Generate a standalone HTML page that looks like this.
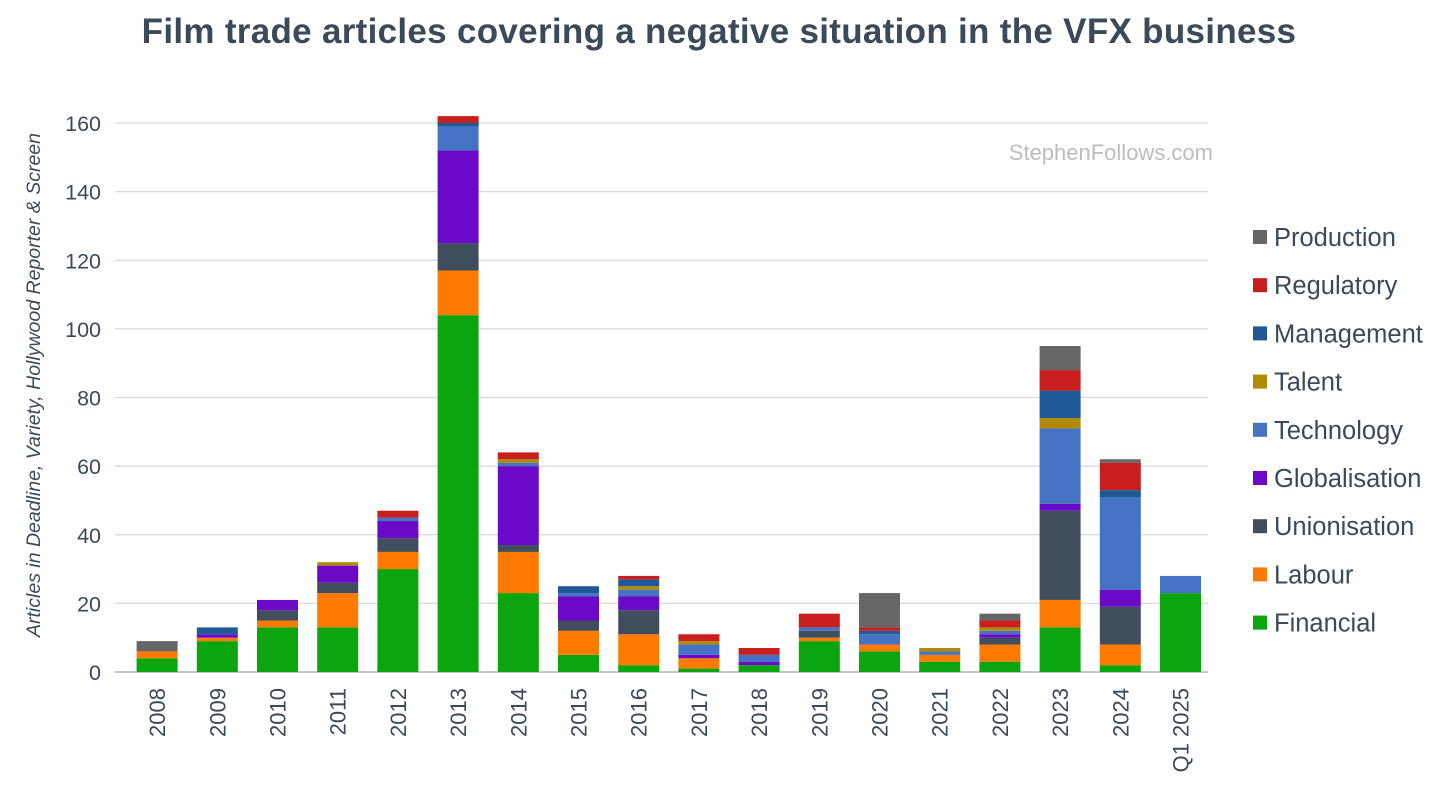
<!DOCTYPE html>
<html><head><meta charset="utf-8"><style>
body{margin:0;background:#fff;width:1456px;height:799px;overflow:hidden;font-family:"Liberation Sans",sans-serif}
</style></head><body>
<svg id="chart" width="1456" height="799" xmlns="http://www.w3.org/2000/svg">
<text x="719" y="43" text-anchor="middle" font-size="35" font-weight="bold" letter-spacing="0.3" fill="#3a4a5a">Film trade articles covering a negative situation in the VFX business</text>
<text x="1213" y="160" text-anchor="end" font-size="22" fill="#bdbdbd">StephenFollows.com</text>
<text transform="translate(40,385) rotate(-90)" text-anchor="middle" font-size="19.5" font-style="italic" fill="#3a4a5a">Articles in Deadline, Variety, Hollywood Reporter &amp; Screen</text>
<g id="grid"></g><g id="bars"></g><g id="xlabels"></g><g id="legend"></g>
</svg>
<script>
const categories=["2008","2009","2010","2011","2012","2013","2014","2015","2016","2017","2018","2019","2020","2021","2022","2023","2024","Q1 2025"];
const seriesNames=["Financial","Labour","Unionisation","Globalisation","Technology","Talent","Management","Regulatory","Production"];
const financial=[4,9,13,13,30,104,23,5,2,1,2,9,6,3,3,13,2,23];
const labour=[2,1,2,10,5,13,12,7,9,3,0,1,2,2,5,8,6,0];
const unionisation=[0,0,3,3,4,8,2,3,7,0,0,2,0,0,2,26,11,0];
const globalisation=[0,1,3,5,5,27,23,7,4,1,1,0,0,0,1,2,5,0];
const technology=[0,0,0,0,1,7,1,1,2,3,2,1,3,1,1,22,27,5];
const talent=[0,0,0,1,0,0,1,0,1,1,0,0,0,1,1,3,0,0];
const management=[0,2,0,0,0,1,0,2,2,0,0,0,1,0,0,8,2,0];
const regulatory=[0,0,0,0,2,2,2,0,1,2,2,4,1,0,2,6,8,0];
const production=[3,0,0,0,0,0,0,0,0,0,0,0,10,0,2,7,1,0];
const yTicks=[0,20,40,60,80,100,120,140,160];
const series=[financial,labour,unionisation,globalisation,technology,talent,management,regulatory,production];
const colors=["#0aa50f","#ff7a00","#3f4d5c","#6a0ac8","#4472c4","#b08a00","#1f5a96","#c81e1e","#666666"];
const NS="http://www.w3.org/2000/svg";
const y0=672,yTop=123,yMax=160;
const yScale=v=>y0-(v/yMax)*(y0-yTop);
const band=60.2,x0=127;
const xScale=i=>x0+band*(i+0.5);
const bw=41;
function mk(tag,attrs,parent){const e=document.createElementNS(NS,tag);for(const k in attrs)e.setAttribute(k,attrs[k]);parent.appendChild(e);return e;}
const grid=document.getElementById('grid');
yTicks.forEach(t=>{
 const l=mk('line',{x1:115,x2:1208,y1:yScale(t),y2:yScale(t),stroke:t===0?'#c8c8c8':'#d9d9d9','stroke-width':t===0?2:1.2},grid);
 
 
 const tx=mk('text',{x:101,y:yScale(t)+8,'text-anchor':'end','font-size':21.5,fill:'#3a4a5a'},grid);
 tx.textContent=t;
 
 
});
const bars=document.getElementById('bars');
categories.forEach((c,i)=>{
 let cum=0;
 series.forEach((s,k)=>{
  const v=s[i]; if(!v) return;
  const r=mk('rect',{x:xScale(i)-bw/2,y:yScale(cum+v),width:bw,height:yScale(cum)-yScale(cum+v),fill:colors[k]},bars);
  
  
  cum+=v;
 });
 const t=mk('text',{transform:`translate(${xScale(i)+8},688) rotate(-90)`,'text-anchor':'end','font-size':22,fill:'#3a4a5a'},document.getElementById('xlabels'));
 t.textContent=c;
 
 
});
const leg=document.getElementById('legend');
for(let k=seriesNames.length-1,row=0;k>=0;k--,row++){
 const y=237+row*48.2;
 const g=mk('g',{},leg);
 
 
 mk('rect',{x:1253,y:y-7,width:14,height:14,fill:colors[k]},g);
 const t=mk('text',{x:1274,y:y+9,'font-size':25.5,fill:'#3a4a5a'},g);
 t.textContent=seriesNames[k];
}
</script>
</body></html>
